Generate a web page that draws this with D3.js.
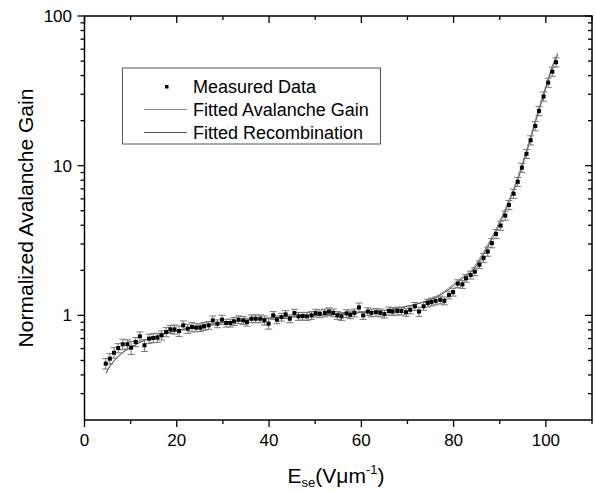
<!DOCTYPE html>
<html>
<head>
<meta charset="utf-8">
<script src="https://cdn.jsdelivr.net/npm/d3@7"></script>
<style>
  body { margin: 0; background: #fff; }
  text { font-family: Arial, 'Liberation Sans', sans-serif; fill: #000; }
</style>
</head>
<body>
<svg id="chart" width="596" height="491"></svg>
<script>
// Measured points (field in V/um, normalized gain)
const field = [
  4.6, 5.5, 6.4, 7.3, 8.3, 9.3, 10.1, 11.1, 12.0, 13.0,
  14.0, 14.9, 15.8, 16.7, 17.7, 18.6, 19.5, 20.5, 21.4, 22.4,
  23.3, 24.2, 25.1, 25.9, 26.9, 27.8, 28.8, 29.8, 30.7, 31.6,
  32.4, 33.4, 34.4, 35.2, 36.2, 37.1, 38.1, 39.0, 39.9, 40.9,
  41.7, 42.7, 43.6, 44.5, 45.5, 46.4, 47.3, 48.2, 49.2, 50.1,
  51.0, 52.1, 53.0, 53.9, 54.8, 55.7, 56.8, 57.6, 58.5, 59.5,
  60.4, 61.4, 62.2, 63.2, 64.1, 65.0, 66.0, 66.8, 67.8, 68.7,
  69.7, 70.6, 71.6, 72.5, 73.5, 74.4, 75.2, 76.1, 77.1, 78.0,
  79.0, 79.9, 80.9, 81.9, 82.7, 83.7, 84.6, 85.6, 86.5, 87.4,
  88.3, 89.2, 90.2, 91.2, 92.0, 93.0, 93.9, 94.8, 95.8, 96.7,
  97.7, 98.5, 99.5, 100.5, 101.4, 102.2
]
const gain = [
  0.476, 0.514, 0.563, 0.605, 0.641, 0.641, 0.609, 0.664, 0.724, 0.631,
  0.699, 0.706, 0.710, 0.736, 0.774, 0.806, 0.806, 0.786, 0.858, 0.815,
  0.836, 0.828, 0.828, 0.845, 0.858, 0.926, 0.880, 0.936, 0.889, 0.889,
  0.912, 0.936, 0.926, 0.902, 0.950, 0.950, 0.950, 0.926, 0.880, 1.0,
  0.936, 0.974, 1.015, 0.950, 1.036, 0.985, 0.989, 0.985, 1.0, 1.036,
  1.026, 1.04, 1.06, 1.04, 1.00, 0.985, 1.03, 1.01, 1.04, 1.13,
  1.00, 1.06, 1.04, 1.05, 1.04, 1.02, 1.07, 1.06, 1.07, 1.07,
  1.05, 1.09, 1.15, 1.06, 1.15, 1.21, 1.23, 1.25, 1.27, 1.25,
  1.37, 1.43, 1.63, 1.61, 1.77, 1.86, 1.96, 2.18, 2.42, 2.67,
  3.04, 3.50, 3.98, 4.64, 5.47, 6.5, 7.8, 9.7, 12.0, 14.8,
  18.4, 23.2, 29.0, 35.9, 42.5, 49.1
]
// relative error of each point
const gain_err = [
  0.08, 0.08, 0.08, 0.07, 0.08, 0.07, 0.10, 0.07, 0.07, 0.09,
  0.07, 0.07, 0.07, 0.07, 0.07, 0.06, 0.07, 0.08, 0.07, 0.07,
  0.07, 0.06, 0.06, 0.06, 0.06, 0.07, 0.06, 0.07, 0.06, 0.06,
  0.06, 0.06, 0.06, 0.06, 0.06, 0.06, 0.06, 0.07, 0.08, 0.06,
  0.06, 0.06, 0.06, 0.06, 0.06, 0.06, 0.06, 0.06, 0.06, 0.06,
  0.06, 0.06, 0.06, 0.06, 0.06, 0.06, 0.06, 0.06, 0.06, 0.07,
  0.06, 0.06, 0.06, 0.06, 0.06, 0.06, 0.06, 0.06, 0.06, 0.06,
  0.06, 0.06, 0.06, 0.07, 0.06, 0.06, 0.06, 0.06, 0.06, 0.06,
  0.06, 0.06, 0.06, 0.06, 0.06, 0.06, 0.06, 0.06, 0.07, 0.07,
  0.07, 0.07, 0.07, 0.07, 0.07, 0.07, 0.07, 0.07, 0.07, 0.07,
  0.07, 0.07, 0.07, 0.07, 0.07, 0.07
]

// Fitted curves
const fit_field = [
  4.7, 5, 6, 7, 8, 9, 10, 12, 14, 16, 18, 20, 25, 30, 35, 40, 45, 50, 55, 60,
  65, 70, 72, 74, 76, 78, 80, 82, 84, 86, 88, 90, 92, 94, 96, 98, 100, 102, 102.6
]
const fit_avalanche = [
  0.41, 0.43, 0.48, 0.52, 0.555, 0.585, 0.61, 0.66, 0.70, 0.735, 0.765, 0.79, 0.85, 0.895, 0.93, 0.96, 0.985, 1.0, 1.02, 1.045,
  1.08, 1.15, 1.19, 1.25, 1.33, 1.45, 1.62, 1.81, 2.03, 2.5, 3.2, 4.25, 5.9, 8.5, 13.2, 21.5, 34, 52, 57
]
const fit_recombination = [
  0.41, 0.43, 0.48, 0.52, 0.555, 0.585, 0.61, 0.66, 0.70, 0.735, 0.765, 0.79, 0.85, 0.895, 0.93, 0.96, 0.985, 1.0, 1.02, 1.045,
  1.08, 1.15, 1.19, 1.24, 1.31, 1.42, 1.58, 1.77, 1.98, 2.42, 3.1, 4.1, 5.7, 8.2, 12.8, 20.8, 33, 50.5, 55
]

const x_ticks = [0, 20, 40, 60, 80, 100]
const x_minor = [10, 30, 50, 70, 90, 110]
const y_ticks = [1, 10, 100]
const y_minor = [0.3, 0.4, 0.5, 0.6, 0.7, 0.8, 0.9, 2, 3, 4, 5, 6, 7, 8, 9, 20, 30, 40, 50, 60, 70, 80, 90]

const legend_labels = ['Measured Data', 'Fitted Avalanche Gain', 'Fitted Recombination']

let svg = d3.select('#chart')
let [plot_l, plot_r, plot_t, plot_b] = [84.5, 592, 16, 420]

let x = d3.scaleLinear().domain([0, 110]).range([plot_l, plot_r])
let y = d3.scaleLog().domain([0.2, 100]).range([plot_b, plot_t])

// Frame
svg.append('rect')
  .attr('x', plot_l).attr('y', plot_t)
  .attr('width', plot_r - plot_l).attr('height', plot_b - plot_t)
  .style('fill', 'none').style('stroke', '#000').style('stroke-width', 1.5)

// Ticks: outward on bottom/left, inward on top/right
function draw_ticks(values, len, horizontal) {
  values.forEach(function(v) {
    if (horizontal) {
      svg.append('line').attr('x1', x(v)).attr('x2', x(v))
        .attr('y1', plot_b).attr('y2', plot_b + len)
        .style('stroke', '#000').style('stroke-width', 1.3)
      svg.append('line').attr('x1', x(v)).attr('x2', x(v))
        .attr('y1', plot_t).attr('y2', plot_t + len)
        .style('stroke', '#000').style('stroke-width', 1.3)
    } else {
      svg.append('line').attr('y1', y(v)).attr('y2', y(v))
        .attr('x1', plot_l).attr('x2', plot_l - len)
        .style('stroke', '#000').style('stroke-width', 1.3)
      svg.append('line').attr('y1', y(v)).attr('y2', y(v))
        .attr('x1', plot_r).attr('x2', plot_r - len)
        .style('stroke', '#000').style('stroke-width', 1.3)
    }
  })
}
draw_ticks(x_ticks, 7, true)
draw_ticks(x_minor, 4, true)
draw_ticks(y_ticks, 7, false)
draw_ticks(y_minor, 4, false)

svg.selectAll('.x-label').data(x_ticks).enter()
  .append('text')
  .attr('x', d => x(d)).attr('y', 446)
  .attr('text-anchor', 'middle')
  .style('font-size', '17px')
  .text(d => d)

svg.selectAll('.y-label').data(y_ticks).enter()
  .append('text')
  .attr('x', 72).attr('y', d => y(d) + 6)
  .attr('text-anchor', 'end')
  .style('font-size', '17px')
  .text(d => d)

// Axis titles
let x_title = svg.append('text')
  .attr('x', 336).attr('y', 483)
  .attr('text-anchor', 'middle')
  .style('font-size', '21px')
x_title.append('tspan').text('E')
x_title.append('tspan').attr('dy', 4).style('font-size', '13px').text('se')
x_title.append('tspan').attr('dy', -4).text('(V\u03bcm')
x_title.append('tspan').attr('dy', -9).style('font-size', '13px').text('-1')
x_title.append('tspan').attr('dy', 9).text(')')

svg.append('text')
  .attr('transform', `translate(33, ${(plot_t + plot_b) / 2}) rotate(-90)`)
  .attr('text-anchor', 'middle')
  .style('font-size', '21px')
  .text('Normalized Avalanche Gain')

// Fitted curves
let fit_line = d3.line()
  .x(d => x(d[0]))
  .y(d => y(d[1]))
  .curve(d3.curveMonotoneX)

svg.append('path')
  .datum(d3.zip(fit_field, fit_avalanche))
  .attr('d', fit_line)
  .style('fill', 'none').style('stroke', '#8a8a8a').style('stroke-width', 1)

svg.append('path')
  .datum(d3.zip(fit_field, fit_recombination))
  .attr('d', fit_line)
  .style('fill', 'none').style('stroke', '#555').style('stroke-width', 1)

// Error bars and measured points
let points = d3.range(field.length).map(i => ({
  x: field[i], y: gain[i], e: gain[i] * gain_err[i]
}))

let bars = svg.append('g').style('stroke', '#777').style('stroke-width', 1)
points.forEach(function(p) {
  let [y_hi, y_lo] = [y(p.y + p.e), y(p.y - p.e)]
  bars.append('line').attr('x1', x(p.x)).attr('x2', x(p.x)).attr('y1', y_hi).attr('y2', y_lo)
  bars.append('line').attr('x1', x(p.x) - 3.5).attr('x2', x(p.x) + 3.5).attr('y1', y_hi).attr('y2', y_hi)
  bars.append('line').attr('x1', x(p.x) - 3.5).attr('x2', x(p.x) + 3.5).attr('y1', y_lo).attr('y2', y_lo)
})

svg.append('g').selectAll('rect').data(points).enter()
  .append('rect')
  .attr('x', d => x(d.x) - 2).attr('y', d => y(d.y) - 2)
  .attr('width', 4).attr('height', 4)
  .style('fill', '#000')

// Legend
let legend = svg.append('g')
legend.append('rect')
  .attr('x', 122.5).attr('y', 68)
  .attr('width', 258).attr('height', 76)
  .style('fill', '#fff').style('stroke', '#555').style('stroke-width', 1)

let row_y = [86.5, 109.5, 132.5]
legend.append('rect')
  .attr('x', 165).attr('y', row_y[0] - 1.5)
  .attr('width', 3.5).attr('height', 3.5)
  .style('fill', '#000')
legend.append('line')
  .attr('x1', 144).attr('x2', 187).attr('y1', row_y[1]).attr('y2', row_y[1])
  .style('stroke', '#8a8a8a').style('stroke-width', 1)
legend.append('line')
  .attr('x1', 144).attr('x2', 187).attr('y1', row_y[2]).attr('y2', row_y[2])
  .style('stroke', '#555').style('stroke-width', 1)

legend_labels.forEach(function(label, i) {
  legend.append('text')
    .attr('x', 193).attr('y', row_y[i] + 6.5)
    .style('font-size', '18px')
    .text(label)
})
</script>
</body>
</html>
